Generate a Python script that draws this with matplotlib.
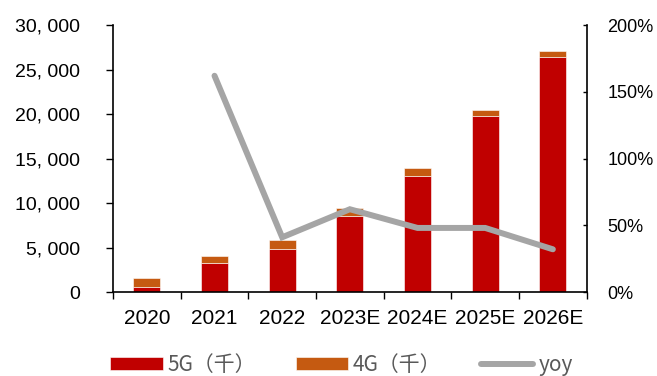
import matplotlib
matplotlib.use("Agg")
import matplotlib.pyplot as plt
from matplotlib.ticker import FuncFormatter, FixedLocator

# ── データ ──
years = ["2020", "2021", "2022", "2023E", "2024E", "2025E", "2026E"]
g5 = [600, 3300, 4870, 8550, 13070, 19800, 26400]      # 5G（千）
g4 = [1000, 800, 930, 850, 830, 700, 700]              # 4G（千）
yoy_years = ["2021", "2022", "2023E", "2024E", "2025E", "2026E"]
yoy = [162, 41, 62, 48, 48, 32]                        # %

C_5G = "#C00000"
C_4G = "#C55A11"
C_YOY = "#A5A5A5"

NUM_FONT = ["Liberation Sans", "DejaVu Sans"]
CJK_FONT = ["Noto Sans CJK SC", "DejaVu Sans"]

fig = plt.figure(figsize=(6.57, 3.76), dpi=100)
ax = fig.add_axes([0.172, 0.2234, 0.721, 0.710])
ax2 = ax.twinx()

x = list(range(len(years)))
ax.bar(x, g5, width=0.4, color=C_5G, edgecolor="white", linewidth=0.4,
       label="5G（千）", zorder=2)
ax.bar(x, g4, width=0.4, bottom=g5, color=C_4G, edgecolor="white",
       linewidth=0.4, label="4G（千）", zorder=2)

xy = [years.index(y) for y in yoy_years]
ax2.plot(xy, yoy, color=C_YOY, lw=4.3, solid_capstyle="round",
         solid_joinstyle="miter", label="yoy")

# 左軸
ax.set_xlim(-0.5, len(years) - 0.5)
ax.set_ylim(0, 30000)
ax.set_yticks(range(0, 30001, 5000))
ax.yaxis.set_major_formatter(FuncFormatter(
    lambda v, p: "{:,}".format(int(v)).replace(",", ", ")))
ax.tick_params(axis="y", direction="out", length=5, width=1, pad=19,
               labelsize=14, colors="black")

# X軸: 区切りに目盛、ラベルは中央
ax.xaxis.set_major_locator(FixedLocator([i - 0.5 for i in range(len(years) + 1)]))
ax.xaxis.set_major_formatter(FuncFormatter(lambda v, p: ""))
ax.xaxis.set_minor_locator(FixedLocator(x))
ax.set_xticklabels(years, minor=True)
ax.tick_params(axis="x", which="major", direction="out", length=5, width=1)
ax.tick_params(axis="x", which="minor", length=0, pad=12, labelsize=15)

# 右軸
ax2.set_ylim(0, 200)
ax2.set_yticks(range(0, 201, 50))
ax2.yaxis.set_major_formatter(FuncFormatter(lambda v, p: "{:d}%".format(int(v))))
ax2.tick_params(axis="y", direction="in", length=3, width=1, pad=15,
                labelsize=13, colors="black")

for a in (ax, ax2):
    a.spines["top"].set_visible(False)
    for s in ("left", "right", "bottom"):
        a.spines[s].set_linewidth(1.2)
    for lab in a.get_xticklabels(minor=True) + a.get_yticklabels():
        lab.set_family(NUM_FONT)
ax.spines["right"].set_visible(False)
ax2.spines["left"].set_visible(False)
ax2.spines["bottom"].set_visible(False)

# 凡例
h1, l1 = ax.get_legend_handles_labels()
h2, l2 = ax2.get_legend_handles_labels()
leg = fig.legend(h1 + h2, l1 + l2, loc="center", ncol=3,
                 bbox_to_anchor=(0.52, 0.03), frameon=False,
                 prop={"family": CJK_FONT, "size": 15},
                 handlelength=2.5, handleheight=0.55, handletextpad=0.25,
                 columnspacing=1.9)
for t in leg.get_texts():
    t.set_color("#595959")

fig.savefig("out.png", dpi=100)
